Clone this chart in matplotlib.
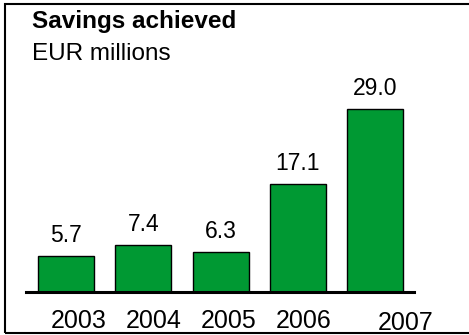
import matplotlib
matplotlib.use("Agg")
from matplotlib import pyplot as plt
from matplotlib.patches import Rectangle
from matplotlib.transforms import blended_transform_factory
import numpy as np

plt.rcParams['font.family'] = ['Liberation Sans', 'DejaVu Sans']

YEARS = ['2003', '2004', '2005', '2006', '2007']
SAVINGS = [5.7, 7.4, 6.3, 17.1, 29.0]
VALUE_LABELS = ['5.7', '7.4', '6.3', '17.1', '29.0']

W, H = 469, 335
fig = plt.figure(figsize=(W / 100, H / 100), dpi=100)

# axes placed in pixels: baseline at y=292, x from 26 to 414
px_per_unit = 6.31
ymax = 40
ax_h = ymax * px_per_unit
ax = fig.add_axes([26 / W, (H - 292) / H, (414 - 26) / W, ax_h / H])

xs = np.arange(len(YEARS))
ax.bar(xs, SAVINGS, width=0.725, color='#009933', edgecolor='black', linewidth=1.0, zorder=2)
ax.set_xlim(-0.518, 4.505)
ax.set_ylim(0, ymax)

for x, v, lab in zip(xs, SAVINGS, VALUE_LABELS):
    ax.annotate(lab, (x, v), xytext=(0, 10), textcoords='offset points',
                ha='center', va='baseline', fontsize=16.5, clip_on=False)

# year labels sit a bit off the bar centres, 2007 shifted right and lower
lab_x = [0.16, 1.13, 2.1, 3.07, 4.4]
lab_y = [-0.143, -0.143, -0.143, -0.143, -0.151]
tr = blended_transform_factory(ax.transData, ax.transAxes)
for x, y, yr in zip(lab_x, lab_y, YEARS):
    ax.text(x, y, yr, transform=tr, ha='center', va='baseline', fontsize=18, clip_on=False)

for s in ['top', 'right', 'left']:
    ax.spines[s].set_visible(False)
ax.spines['bottom'].set_linewidth(2.2)
ax.set_xticks([])
ax.set_yticks([])
ax.patch.set_alpha(0)

fig.text(32 / W, (H - 28) / H, 'Savings achieved', fontsize=17.5, fontweight='bold', va='baseline')
fig.text(32 / W, (H - 60) / H, 'EUR millions', fontsize=17.5, va='baseline')

fig.patches.append(Rectangle((5 / W, 2 / H), 1.05, (H - 6) / H, transform=fig.transFigure,
                             fill=False, edgecolor='black', linewidth=1.5))

fig.savefig('out.png', dpi=100)
